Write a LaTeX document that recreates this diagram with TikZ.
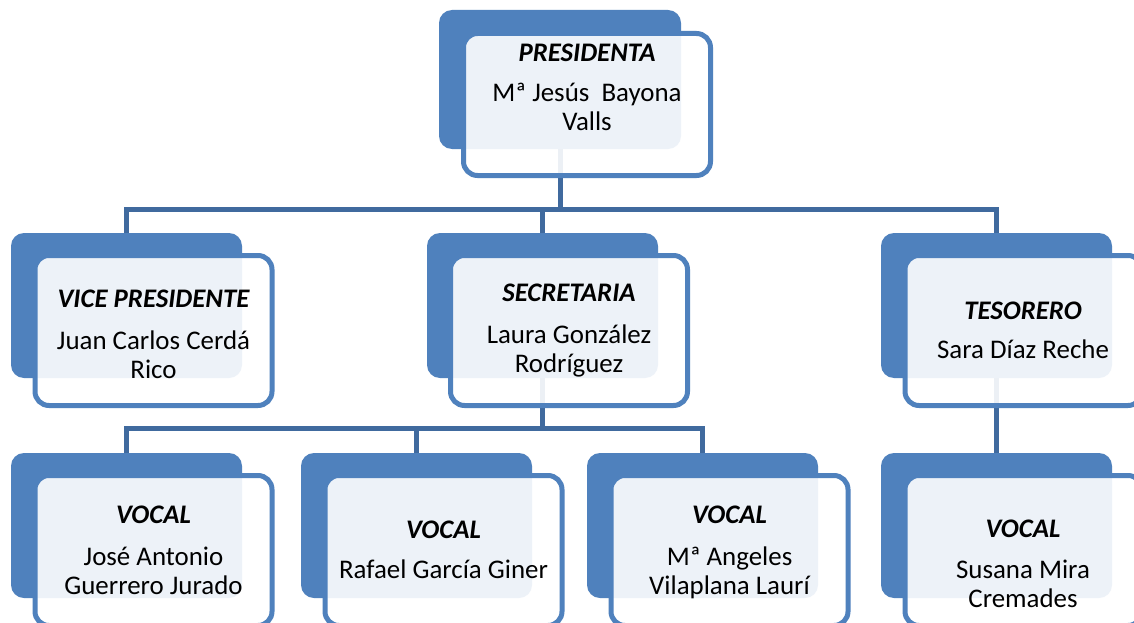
\documentclass[tikz,border=0pt]{standalone}
\usepackage{fontspec}
\setmainfont{Carlito}
\definecolor{accent}{RGB}{79,129,189}
\definecolor{linkblue}{RGB}{64,106,158}
\tikzset{
 backbox/.style={rectangle, rounded corners=13pt, fill=accent, inner sep=0pt, outer sep=0pt, minimum width=231pt, minimum height=145pt},
 frontbox/.style={rectangle, rounded corners=14pt, draw=accent, line width=5pt, fill=white, fill opacity=0.9, inner sep=0pt, outer sep=0pt, minimum width=237pt, minimum height=150pt},
 connector/.style={draw=linkblue, line width=5pt},
 role/.style={anchor=base, inner sep=0pt, font=\fontsize{26.8}{29}\selectfont\bfseries\itshape},
 person/.style={anchor=base, inner sep=0pt, font=\fontsize{26.9}{29}\selectfont},
}
\begin{document}
\begin{tikzpicture}[x=1pt,y=-1pt]
\clip (0,0) rectangle (1134,623);
\fill[white] (0,0) rectangle (1134,623);
% back boxes
\node[backbox, minimum width=242pt, minimum height=139pt] (presB) at (560,79.5) {};
\node[backbox] (viceB) at (126.5,305.5) {};
\node[backbox] (secB) at (542.5,305.5) {};
\node[backbox] (tesoB) at (996.5,305.5) {};
\node[backbox] (v1B) at (126.5,525.5) {};
\node[backbox] (v2B) at (416.5,525.5) {};
\node[backbox] (v3B) at (702.5,525.5) {};
\node[backbox] (v4B) at (996.5,525.5) {};
% connectors
\draw[connector] (presB.south) -- ++(0,60) coordinate (bus1);
\draw[connector] (viceB.north) |- (bus1) -| (tesoB.north);
\draw[connector] (secB.north) -- (secB.north |- bus1);
\draw[connector] (secB.south) -- ++(0,50) coordinate (bus2);
\draw[connector] (v1B.north) |- (bus2) -| (v3B.north);
\draw[connector] (v2B.north) -- (v2B.north |- bus2);
\draw[connector] (tesoB.south) -- (v4B.north);
% front boxes
\node[frontbox, minimum width=247pt, minimum height=142pt] (presF) at (587,104.5) {};
\node[frontbox] (viceF) at (153.5,330.5) {};
\node[frontbox] (secF) at (569,330.5) {};
\node[frontbox] (tesoF) at (1023.5,330.5) {};
\node[frontbox] (v1F) at (153.5,550.5) {};
\node[frontbox] (v2F) at (443.5,550.5) {};
\node[frontbox] (v3F) at (729.5,550.5) {};
\node[frontbox] (v4F) at (1023.5,550.5) {};
% texts
\node[role] (presR) at (587,62) {PRESIDENTA};
\node[person] (presN1) at (587,102) {Mª Jesús~ Bayona};
\node[person] (presN2) at (587,130) {Valls};
\node[role] (viceR) at (153.5,307) {VICE PRESIDENTE};
\node[person] (viceN1) at (153.5,349) {Juan Carlos Cerdá};
\node[person] (viceN2) at (153.5,378) {Rico};
\node[role] (secR) at (569,301) {SECRETARIA};
\node[person] (secN1) at (569,343) {Laura González};
\node[person] (secN2) at (569,372) {Rodríguez};
\node[role] (tesoR) at (1023,319) {TESORERO};
\node[person] (tesoN1) at (1023,358) {Sara Díaz Reche};
\node[role] (v1R) at (153.5,523) {VOCAL};
\node[person] (v1N1) at (153.5,565) {José Antonio};
\node[person] (v1N2) at (153.5,594) {Guerrero Jurado};
\node[role] (v2R) at (443.5,538) {VOCAL};
\node[person] (v2N1) at (443.5,578) {Rafael García Giner};
\node[role] (v3R) at (729.5,523) {VOCAL};
\node[person] (v3N1) at (729.5,565) {Mª Angeles};
\node[person] (v3N2) at (729.5,594) {Vilaplana Laurí};
\node[role] (v4R) at (1023,537) {VOCAL};
\node[person] (v4N1) at (1023,578) {Susana Mira};
\node[person] (v4N2) at (1023,607) {Cremades};
\end{tikzpicture}
\end{document}
